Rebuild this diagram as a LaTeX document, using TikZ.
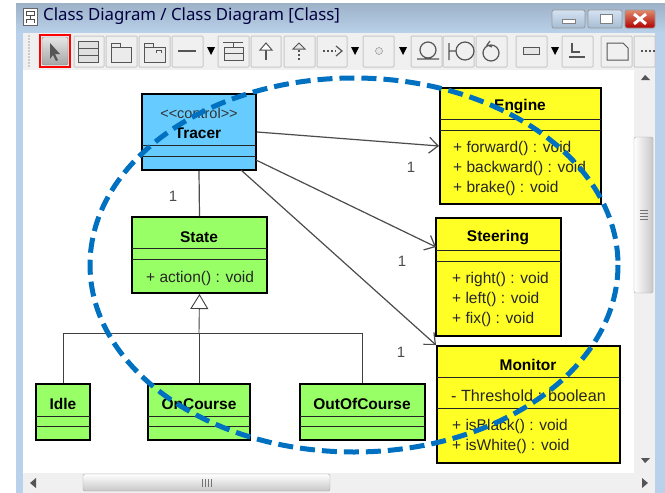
\documentclass[tikz,border=0pt]{standalone}
\usepackage{fontspec}
\setmainfont{Liberation Sans}
\newfontfamily\titlefont{Noto Sans}
\usetikzlibrary{arrows.meta}
\definecolor{framec}{HTML}{B9D1EA}
\definecolor{tracerc}{HTML}{66CCFF}
\definecolor{statec}{HTML}{99FF66}
\definecolor{enginec}{HTML}{FFFF26}
\definecolor{loopc}{HTML}{0070C0}
\definecolor{barc}{HTML}{F0F0F0}
\definecolor{inkc}{HTML}{555555}
\tikzset{
  classbox/.style={draw=black,line width=2pt,inner sep=0pt},
  divider/.style={draw=black!85,line width=1pt},
  classname/.style={font=\fontsize{15.5}{17}\selectfont\bfseries,inner sep=0pt,yshift=-1pt},
  member/.style={font=\fontsize{15.5}{17}\selectfont,inner sep=0pt,text=black!85,anchor=west,yshift=-1pt},
  multi/.style={font=\fontsize{15}{17}\selectfont,inner sep=0pt,text=black!70},
  assoc/.style={draw=black!70,line width=1.2pt},
  knownline/.style={draw=black!75,line width=.9pt},
  toolbtn/.style={draw=black!22,fill=barc,line width=1pt,rounded corners=1pt},
  icon/.style={draw=inkc,line width=1pt},
  winbtn/.style={draw=black!40,line width=.8pt,rounded corners=2pt},
  trackarrow/.style={fill=inkc,draw=none}
}
\begin{document}
\begin{tikzpicture}[x=1pt,y=-1pt]
        \useasboundingbox (0,0) rectangle (665,493);

        %%% window %%%
        \fill[framec] (16,3) rectangle (665,493);
        \shade[top color=framec!85!black,bottom color=framec] (16,3) rectangle (665,33);
        \fill[barc] (23,33) rectangle (655,70);
        \fill[white] (23,70) rectangle (634,473);
        \draw[black!60,fill=white] (23,8) rectangle (37,25);
        \draw[black!70,line width=.8pt] (26,11) rectangle (34,15) (30,15) -- (30,19) (26,19) -- (34,19) (26,19) -- (26,23) (34,19) -- (34,23);
        \node[anchor=west,inner sep=0pt,text=black!75!blue,font=\titlefont\fontsize{16.8}{19}\selectfont] (title) at (43,16) {Class Diagram / Class Diagram [Class]};

        %%% window buttons %%%
        \shade[winbtn,top color=framec!60!white,bottom color=framec!90!black] (552,10) rectangle (585,28);
        \shade[winbtn,top color=framec!60!white,bottom color=framec!90!black] (588,10) rectangle (622,28);
        \shade[winbtn,top color=red!30!brown!70,bottom color=red!70!black] (625,10) rectangle (655,28);
        \draw[black!50,fill=white] (562,19) rectangle (575,23);
        \draw[black!50,fill=white] (600,14) rectangle (612,23);
        \draw[white,line width=3pt] (634,14) -- (646,24) (646,14) -- (634,24);

        %%% toolbar %%%
        \foreach \i in {36,39,...,66}{ \fill[black!35] (29,\i) circle (.8); }
        \foreach \xa/\xb in {74/104,106/137,139/170,172/203,218/249,251/281,284/315,317/347,363/394,411/442,443/474,476/507,516/547,562/593,601/632,634/655}{
          \draw[toolbtn] (\xa,36) rectangle (\xb,67);
        }
        \foreach \i in {211,355,403,555}{ \fill[black] (\i-4,47) -- (\i+4,47) -- (\i,55) -- cycle; }
        \shade[draw=black!50,rounded corners=2pt,top color=black!10,bottom color=black!35] (42,37) rectangle (68,65);
        \draw[red,line width=1.6pt] (40,35) rectangle (70,67);
        \fill[inkc] (50,43) -- (50,59) -- (53,55) -- (56,61) -- (58,60) -- (55,54) -- (60,54) -- cycle;

        \draw[icon,fill=black!12] (78,41) rectangle (98,62) (78,48) -- (98,48) (78,55) -- (98,55);
        \draw[icon,fill=black!8] (111,47) rectangle (131,62) (111,47) -- (111,43) -- (120,43) -- (120,47);
        \draw[icon,fill=black!8] (144,47) rectangle (165,62) (144,47) -- (144,43) -- (153,43) -- (153,47) (156,53) -- (156,50) -- (161,50) -- (161,53);
        \draw[inkc,line width=2pt] (178,51) -- (196,51);
        \draw[icon] (223,42) -- (243,42) (233,42) -- (233,47);
        \draw[icon,fill=black!8] (224,47) rectangle (243,60) (224,53) -- (243,53);
        \draw[inkc,line width=1.6pt] (266,60) -- (266,46);
        \draw[icon,fill=white] (260,50) -- (266,43) -- (272,50) -- cycle;
        \draw[inkc,line width=1.6pt,dash pattern=on 2pt off 2pt] (299,60) -- (299,48);
        \draw[icon,fill=black!10] (293,49) -- (299,43) -- (305,49) -- cycle;
        \draw[inkc,line width=1.4pt,dash pattern=on 2pt off 2pt] (323,51) -- (336,51);
        \draw[inkc,line width=1.2pt] (336,46) -- (342,51) -- (336,56);
        \draw[black!50,fill=black!10] (379,51) circle (3.5);
        \draw[icon,line width=1.2pt] (428,50) circle (8) (417,59) -- (439,59);
        \draw[icon,line width=1.2pt] (449,43) -- (449,60) (449,51) -- (456,51) (465,51) circle (9);
        \draw[icon,line width=1.2pt] (491,53) circle (8) (490,41) -- (487,45) -- (492,47);
        \draw[icon,fill=black!10] (523,47) rectangle (539,54);
        \draw[inkc,line width=1.4pt] (572,43) -- (572,52) -- (580,52) (569,57) -- (585,57);
        \draw[icon,fill=black!6] (607,43) -- (623,43) -- (628,48) -- (628,60) -- (607,60) -- cycle;
        \draw[inkc,line width=1.4pt,dash pattern=on 2pt off 2pt] (641,51) -- (655,51);

        %%% scroll bars %%%
        \fill[barc] (634,70) rectangle (655,473);
        \fill[barc] (23,473) rectangle (655,493);
        \fill[trackarrow] (645,75) -- (641,80) -- (650,80) -- cycle;
        \fill[trackarrow] (641,458) -- (650,458) -- (645,463) -- cycle;
        \fill[trackarrow] (30,483) -- (36,478) -- (36,488) -- cycle;
        \fill[trackarrow] (642,478) -- (648,483) -- (642,488) -- cycle;
        \shade[draw=black!35,rounded corners=2pt,left color=white,right color=black!22] (634,137) rectangle (653,293);
        \shade[draw=black!35,rounded corners=2pt,top color=white,bottom color=black!22] (83,474) rectangle (330,491);
        \foreach \i in {210,213,216,219}{ \draw[black!55] (640,\i) -- (648,\i); }
        \foreach \i in {202,205,208,211}{ \draw[black!55] (\i,479) -- (\i,487); }

        %%% classes %%%
        \foreach \nm/\xa/\ya/\xb/\yb/\da/\db/\col in {
          tracer/142/94/256/170/145/156/tracerc,
          state/132/217/267/293/248/259/statec,
          idle/36/384/90/440/416/426/statec,
          oncourse/148/384/250/440/416/426/statec,
          outofcourse/300/384/425/440/416/426/statec,
          engine/440/88/601/204/119/130/enginec,
          steering/436/218/561/336/250/261/enginec,
          monitor/437/346/620/463/377/408/enginec}{
          \node[classbox,fill=\col,minimum width={(\xb-\xa)*1pt},minimum height={(\yb-\ya)*1pt}] (\nm) at ({(\xa+\xb)/2},{(\ya+\yb)/2}) {};
          \draw[divider] (\xa,\da) -- (\xb,\da) (\xa,\db) -- (\xb,\db);
        }

        \node[font=\fontsize{14.5}{16}\selectfont,inner sep=0pt,text=black!80] (stereo) at (199,113) {<{}<control>{}>};
        \node[classname] (tracername) at (198,132) {Tracer};
        \node[classname] (statename) at (199,236) {State};
        \node[member] (action) at (146,277) {+ action() : void};
        \node[classname] (idlename) at (63,403) {Idle};
        \node[classname] (oncoursename) at (199,403) {OnCourse};
        \node[classname] (outofcoursename) at (362,403) {OutOfCourse};
        \node[classname] (enginename) at (520,106) {Engine};
        \node[member] (forward) at (453,147) {+ forward() : void};
        \node[member] (backward) at (453,167) {+ backward() : void};
        \node[member] (brake) at (453,187) {+ brake() : void};
        \node[classname] (steeringname) at (498,237) {Steering};
        \node[member] (right) at (452,278) {+ right() : void};
        \node[member] (left) at (452,298) {+ left() : void};
        \node[member] (fix) at (452,318) {+ fix() : void};
        \node[classname] (monitorname) at (528,364) {Monitor};
        \node[member,font=\fontsize{16.2}{17}\selectfont] (threshold) at (451,395) {- Threshold : boolean};
        \node[member] (isblack) at (452,425) {+ isBlack() : void};
        \node[member] (iswhite) at (452,445) {+ isWhite() : void};

        %%% connectors %%%
        \coordinate (tracerb) at (256,160);
        \coordinate (tracerc) at (241,170);
        \coordinate (steerin) at (436,247);
        \coordinate (branch) at (199,333);
        \draw[assoc,-{Straight Barb[length=9pt,width=16pt]}] (tracer.east) -- (engine.west);
        \draw[assoc,-{Straight Barb[length=9pt,width=16pt]}] (tracerb) -- (steerin);
        \draw[assoc,-{Straight Barb[length=9pt,width=16pt]}] (tracerc) -- (monitor.north west);
        \draw[assoc] (tracer.south) -- (state.north);
        \draw[knownline,-{Triangle[open,length=15pt,width=18pt,fill=white]}] (branch) -- (state.south);
        \draw[knownline] (idle.north) |- (branch);
        \draw[knownline] (oncourse.north) -- (branch);
        \draw[knownline] (outofcourse.north) |- (branch);

        \node[multi] (mstate) at (173,196) {1};
        \node[multi] (mengine) at (411,167) {1};
        \node[multi] (msteering) at (402,261) {1};
        \node[multi] (mmonitor) at (401,352) {1};

        %%% loop %%%
        \draw[loopc,line width=5pt,dash pattern=on 15pt off 7pt] (354,265) ellipse [x radius=264,y radius=187];

\end{tikzpicture}
\end{document}
